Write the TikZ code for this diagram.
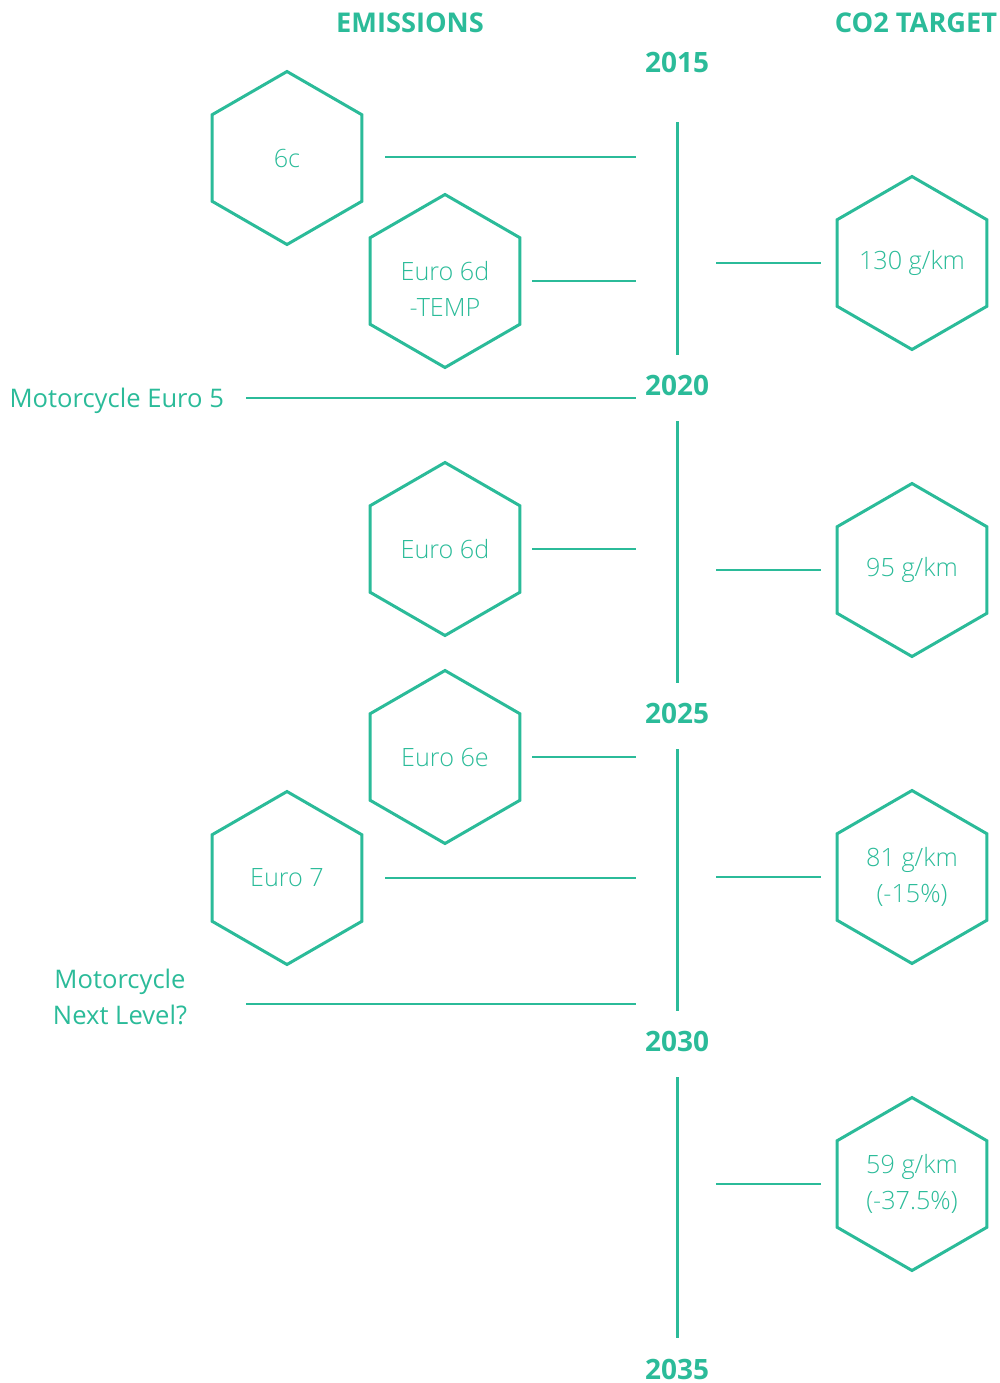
\documentclass[tikz,border=0pt]{standalone}
\usepackage{fontspec}
\setmainfont{Open Sans}
\newfontfamily\thinfont{Open Sans Light}
\usetikzlibrary{shapes.geometric}
\definecolor{teal}{HTML}{2BBB99}
\tikzset{
    hexa/.style={regular polygon,regular polygon sides=6,shape border rotate=30,
        draw=teal,line width=1.5pt,minimum size=86.5pt,inner sep=-8pt,
        text=teal,align=center,font=\thinfont\fontsize{12.6}{18}\selectfont},
    link/.style={draw=teal,line width=0.9pt},
    timeline/.style={draw=teal,line width=1.5pt},
    year/.style={text=teal,font=\bfseries\fontsize{14}{16}\selectfont},
    head/.style={text=teal,font=\bfseries\fontsize{13.6}{16}\selectfont},
    side/.style={text=teal,align=center,font=\fontsize{12.8}{18}\selectfont},
}
\begin{document}
\begin{tikzpicture}[x=0.5pt,y=-0.5pt]
    \useasboundingbox (0,0) rectangle (1000,1383);
    % headers
    \node[head] (emis) at (410,23) {EMISSIONS};
    \node[head] (cotwo) at (916,23) {CO2 TARGET};
    % years and timeline
    \node[year] (y15) at (677,62) {2015};
    \node[year] (y20) at (677,385) {2020};
    \node[year] (y25) at (677,713) {2025};
    \node[year] (y30) at (677,1041) {2030};
    \node[year] (y35) at (677,1369) {2035};
    \foreach \a/\b in {122/355,421/683,749/1011,1077/1338}
        \draw[timeline] (677,\a) -- (677,\b);
    \coordinate (lend) at (636,0);
    \coordinate (rend) at (716,0);
    % emissions
    \node[hexa] (c6) at (287,158) {6c};
    \node[hexa] (d6t) at (445,281) {\begin{tabular}{@{}c@{}}\rule{0pt}{22.6pt}Euro 6d\\-TEMP\end{tabular}};
    \node[hexa] (d6) at (445,549) {Euro 6d};
    \node[hexa] (e6) at (445,757) {Euro 6e};
    \node[hexa] (e7) at (287,878) {Euro 7};
    \node[side,anchor=east] (moto5) at (231,401) {Motorcycle Euro 5};
    \node[side] (motonext) at (120,997) {Motorcycle\\Next Level?};
    \coordinate (m5) at (246,398);
    \coordinate (mn) at (246,1004);
    \draw[link] ([xshift=11pt,yshift=0.5pt]c6.east) -- ([yshift=0.5pt]c6.east -| lend);
    \draw[link] ([xshift=5.5pt]d6t.east) -- (d6t.east -| lend);
    \draw[link] (m5) -- (m5 -| lend);
    \draw[link] ([xshift=5.5pt]d6.east) -- (d6.east -| lend);
    \draw[link] ([xshift=5.5pt]e6.east) -- (e6.east -| lend);
    \draw[link] ([xshift=11pt]e7.east) -- (e7.east -| lend);
    \draw[link] (mn) -- (mn -| lend);
    % co2 targets
    \node[hexa] (g130) at (912,263) {130 g/km};
    \node[hexa] (g95) at (912,570) {95 g/km};
    \node[hexa] (g81) at (912,877) {81 g/km\\(-15\%)};
    \node[hexa] (g59) at (912,1184) {59 g/km\\(-37.5\%)};
    \foreach \h in {g130,g95,g81,g59}
        \draw[link] (\h.west -| rend) -- ([xshift=-7.5pt]\h.west);
\end{tikzpicture}
\end{document}
